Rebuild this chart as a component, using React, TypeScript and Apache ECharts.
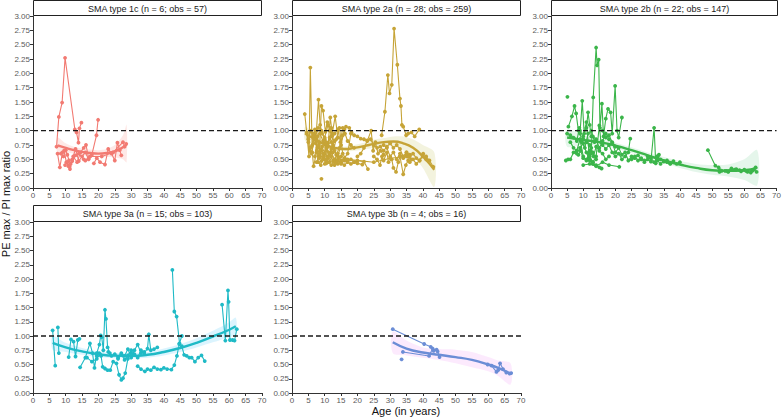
import React, { useEffect, useRef } from "react";
import * as echarts from "echarts";

type Pt = [number, number];

const FONT = "Liberation Sans, Arial, sans-serif";

const panelTitles = [
  "SMA type 1c (n = 6; obs = 57)",
  "SMA type 2a (n = 28; obs = 259)",
  "SMA type 2b (n = 22; obs = 147)",
  "SMA type 3a (n = 15; obs = 103)",
  "SMA type 3b (n = 4; obs = 16)",
];

const lineColors = ["#F27A72", "#C6A437", "#3BB54A", "#1FBAC6", "#6B8DD6"];
const bandColors = [
  "rgba(248,118,109,0.17)",
  "rgba(163,165,0,0.13)",
  "rgba(40,185,90,0.12)",
  "rgba(0,176,246,0.14)",
  "rgba(231,107,243,0.14)",
];

const xTickStep = 5;
const yTickStep = 0.25;
const referenceRatio = 1;

// ---------------- SMA type 1c ----------------
const type1cPatients: Pt[][] = [
  [[7.2, 0.72], [7.9, 1.24], [8.9, 1.49], [9.8, 2.27], [12.8, 1.02], [13.3, 0.97], [13.9, 0.79], [14.2, 1.04], [14.8, 1.14]],
  [[7.5, 0.6], [8.2, 0.36], [9.0, 0.62], [9.5, 0.65], [10.2, 0.45], [10.8, 0.38], [11.3, 0.33], [12.0, 0.5], [13.0, 0.68], [14.0, 0.47], [15.0, 0.55], [16.0, 0.62], [17.0, 0.5]],
  [[8.5, 0.6], [9.3, 0.55], [10.0, 0.66], [10.5, 0.58], [11.0, 0.48], [11.5, 0.42], [12.3, 0.55], [13.5, 0.45], [14.5, 0.62], [15.5, 0.7], [16.2, 0.75], [17.0, 0.52], [18.0, 0.58], [19.4, 0.92], [19.9, 1.19]],
  [[9.8, 0.4], [10.5, 0.45], [11.2, 0.37], [12.0, 0.47], [13.0, 0.57], [14.0, 0.6], [15.5, 0.5]],
  [[18.6, 0.43], [19.5, 0.52], [20.5, 0.45], [22.0, 0.41], [23.0, 0.68], [24.0, 0.6], [25.0, 0.48], [25.8, 0.79], [26.5, 0.66], [27.0, 0.57]],
  [[16.0, 0.48], [17.5, 0.55], [21.0, 0.55], [24.5, 0.62], [27.5, 0.8], [28.0, 0.72], [28.5, 0.77]],
];
const fit1cAge = [7.5, 10, 12.5, 15, 17.5, 20, 22.5, 25, 27.5, 28.6];
const fit1cMid = [0.745, 0.7, 0.66, 0.63, 0.61, 0.6, 0.61, 0.64, 0.71, 0.76];
const fit1cLow = [0.6, 0.62, 0.6, 0.57, 0.55, 0.54, 0.54, 0.53, 0.5, 0.45];
const fit1cHigh = [0.88, 0.78, 0.72, 0.69, 0.67, 0.66, 0.68, 0.75, 0.92, 1.1];

// ---------------- SMA type 2a ----------------
const type2aPatients: Pt[][] = [
  [[3.9, 1.29], [4.5, 0.97], [5.0, 0.8], [5.5, 0.65], [6.2, 0.75], [7.0, 0.9], [7.8, 0.7], [8.5, 0.55], [9.2, 0.72], [10.0, 0.6], [11.0, 0.52], [12.0, 0.68]],
  [[4.5, 0.95], [5.2, 0.55], [5.6, 2.1], [6.2, 0.62], [6.6, 0.38], [7.5, 0.62], [8.3, 0.8], [9.0, 0.47], [9.8, 0.55], [10.5, 0.43], [11.5, 0.58], [12.5, 0.47]],
  [[5.0, 0.85], [5.8, 1.0], [6.5, 0.92], [7.2, 0.78], [8.1, 1.54], [8.6, 1.1], [9.2, 0.95], [10.0, 0.85], [11.0, 0.78], [12.0, 0.9], [13.0, 0.82]],
  [[6.0, 0.72], [7.0, 1.02], [7.6, 0.65], [8.3, 0.52], [9.0, 1.43], [9.5, 1.35], [10.2, 0.98], [10.8, 1.15], [11.5, 1.0], [12.2, 0.92]],
  [[6.5, 0.95], [7.3, 0.85], [8.0, 0.45], [8.8, 0.4], [9.5, 0.6], [10.3, 0.48], [11.0, 0.72], [11.7, 1.23], [12.3, 0.95], [13.2, 1.25], [14.0, 0.88]],
  [[7.0, 0.55], [7.8, 0.9], [8.5, 0.95], [9.5, 0.82], [10.5, 0.65], [11.5, 0.88], [12.5, 0.75], [13.5, 0.58], [14.5, 0.7], [15.5, 0.92]],
  [[9.0, 0.16]],
  [[8.0, 1.05], [9.0, 1.0], [10.0, 0.88], [11.0, 1.1], [12.0, 1.05], [13.0, 0.65], [14.0, 0.55], [15.0, 0.75], [16.0, 1.02], [16.5, 1.07], [17.5, 1.05], [18.2, 0.97]],
  [[10.0, 0.42], [11.0, 0.45], [12.0, 0.4], [13.0, 0.48], [14.0, 0.42], [15.0, 0.45], [16.0, 0.4], [17.0, 0.45], [18.0, 0.42], [19.0, 0.45], [20.0, 0.43], [21.5, 0.41]],
  [[11.0, 0.55], [12.0, 0.62], [13.0, 0.5], [14.0, 0.6], [15.0, 0.48], [16.0, 0.52], [17.0, 0.6], [18.0, 0.95], [19.0, 0.92], [20.0, 0.9], [21.0, 0.86], [22.0, 0.85], [23.0, 0.83]],
  [[12.0, 0.8], [13.0, 0.95], [14.0, 1.02], [14.8, 0.8], [15.5, 1.05], [16.2, 0.95], [17.0, 0.82], [18.0, 0.75], [19.0, 0.7]],
  [[13.0, 0.45], [14.0, 0.5], [15.0, 0.42], [16.0, 0.48], [17.0, 0.46], [18.0, 0.5], [19.0, 0.45], [20.0, 0.48], [22.0, 0.46], [23.2, 0.33]],
  [[20.0, 0.55], [21.0, 0.6], [22.0, 0.7], [23.0, 0.82], [24.2, 1.0], [24.8, 0.65], [25.5, 0.8], [26.3, 0.6], [27.0, 0.65], [28.0, 0.58]],
  [[27.4, 0.92], [28.4, 1.33], [29.3, 1.97], [29.8, 1.65], [30.5, 1.8], [31.2, 2.78], [32.2, 2.15], [33.0, 1.56], [33.3, 1.43], [33.6, 1.1], [34.0, 1.07], [34.9, 0.92], [35.5, 0.95], [36.5, 0.97], [37.5, 0.9], [38.9, 1.02]],
  [[25.0, 0.55], [26.0, 0.5], [26.9, 0.4], [27.5, 0.55], [28.0, 0.48], [29.0, 0.62], [29.5, 0.45], [30.5, 0.5], [31.0, 0.35], [31.8, 0.28], [32.5, 0.45], [33.0, 0.55], [34.0, 0.24], [34.8, 0.4], [35.5, 0.48]],
  [[28.0, 0.75], [29.0, 0.7], [30.0, 0.55], [31.0, 0.62], [32.0, 0.5], [33.0, 0.6], [34.0, 0.52], [35.0, 0.58], [36.0, 0.45], [37.0, 0.5], [38.0, 0.42], [39.0, 0.48], [40.1, 0.6], [41.0, 0.55], [42.0, 0.48], [43.2, 0.37]],
  [[17.0, 0.5], [25.0, 0.45], [30.0, 0.52], [35.0, 0.55], [36.5, 0.5]],
  [[24.0, 0.85], [25.0, 0.75], [26.0, 0.7], [27.0, 0.72], [28.0, 0.65], [29.0, 0.72], [30.0, 0.78], [31.0, 0.7], [32.0, 0.75], [33.0, 0.68], [34.0, 0.55], [35.0, 0.62], [36.0, 0.58]],
  [[5.5, 0.7], [6.0, 0.6], [6.8, 0.85], [7.5, 1.0], [8.2, 0.75], [9.0, 0.65], [9.8, 0.78], [10.5, 0.7], [11.3, 0.62], [12.0, 0.55], [13.0, 0.4], [14.0, 0.47], [15.0, 0.55]],
  [[7.5, 0.45], [8.5, 0.6], [9.5, 0.5], [10.5, 0.8], [11.5, 0.45], [12.5, 0.62], [13.5, 0.85], [14.5, 1.05], [15.5, 0.6], [16.5, 0.5]],
  [[35.0, 0.62], [36.0, 0.55], [37.0, 0.6], [38.0, 0.52], [39.0, 0.48], [40.0, 0.55], [41.0, 0.5]],
];
const fit2aAge = [4, 7, 10, 13, 16, 19, 22, 25, 28, 31, 34, 37, 40, 43.5];
const fit2aMid = [0.95, 0.85, 0.76, 0.7, 0.68, 0.7, 0.73, 0.77, 0.8, 0.81, 0.78, 0.7, 0.55, 0.32];
const fit2aLow = [0.83, 0.78, 0.71, 0.66, 0.64, 0.65, 0.67, 0.7, 0.73, 0.72, 0.66, 0.55, 0.35, 0.02];
const fit2aHigh = [1.07, 0.92, 0.81, 0.74, 0.72, 0.75, 0.79, 0.84, 0.87, 0.9, 0.9, 0.85, 0.75, 0.62];

// ---------------- SMA type 2b ----------------
const type2bPatients: Pt[][] = [
  [[5.1, 1.59]],
  [[5.4, 1.07], [6.5, 1.25], [7.3, 1.43], [7.8, 1.3], [8.5, 1.0], [9.0, 0.95], [9.7, 1.52], [10.3, 0.95], [11.0, 1.05], [11.5, 1.32], [12.0, 1.1], [12.5, 0.9]],
  [[4.6, 0.48], [5.3, 0.5], [6.0, 0.5], [7.0, 0.62], [7.8, 0.63], [8.5, 0.58], [9.2, 0.65], [10.0, 0.52], [11.0, 0.5], [12.0, 0.55], [13.0, 0.45]],
  [[5.0, 0.95], [6.0, 0.92], [7.0, 0.88], [8.0, 0.82], [8.8, 1.05], [9.5, 0.8], [10.5, 0.7], [11.5, 0.95], [12.5, 1.0], [13.5, 0.8]],
  [[8.0, 0.6], [9.0, 0.7], [10.0, 0.78], [11.0, 0.62], [12.0, 0.48], [13.0, 0.42], [14.0, 0.4], [15.0, 0.36], [15.7, 0.34]],
  [[10.0, 0.85], [11.0, 0.8], [12.0, 0.75], [12.5, 0.6], [13.1, 1.58], [14.0, 2.45], [14.3, 2.14], [14.8, 2.24], [15.2, 1.05], [15.8, 1.47], [16.3, 0.9], [17.0, 1.21], [17.7, 1.38], [18.5, 1.32], [19.0, 0.95], [19.9, 1.78], [20.5, 1.0], [21.0, 0.88], [22.0, 1.23]],
  [[9.0, 1.0], [10.0, 0.9], [11.0, 1.15], [11.8, 0.6], [12.5, 0.7], [13.2, 0.55], [14.0, 0.72], [15.0, 0.65], [16.0, 0.6], [17.0, 0.5], [18.0, 0.55]],
  [[12.0, 0.5], [13.0, 0.45], [14.0, 0.55], [15.0, 1.09], [15.5, 0.8], [16.0, 0.75], [17.0, 0.68], [18.0, 0.75], [19.0, 0.62], [20.0, 0.55], [21.0, 0.6], [22.0, 0.5], [23.0, 0.55], [24.0, 0.62], [24.6, 0.86]],
  [[10.0, 0.4], [12.0, 0.42], [14.0, 0.38], [16.0, 0.45], [18.0, 0.4], [21.2, 0.37]],
  [[16.0, 1.0], [17.0, 0.88], [18.0, 0.92], [19.0, 0.8], [20.0, 0.62], [21.0, 0.7], [22.0, 0.58], [23.0, 0.62], [24.0, 0.48], [25.0, 0.55], [26.0, 0.52], [27.0, 0.57], [28.0, 0.5], [29.0, 0.48]],
  [[25.0, 0.5], [26.0, 0.55], [27.0, 0.48], [28.0, 0.52], [29.0, 0.45], [30.0, 0.5], [31.0, 0.46], [32.0, 1.05], [32.5, 0.43], [33.0, 0.55], [33.5, 0.58]],
  [[30.0, 0.55], [31.0, 0.52], [32.0, 0.45], [33.0, 0.48], [34.0, 0.42], [35.0, 0.47], [36.0, 0.45], [37.0, 0.42], [38.0, 0.45], [39.0, 0.42], [40.0, 0.45]],
  [[33.0, 0.55], [34.0, 0.5], [35.0, 0.46], [36.0, 0.48], [37.0, 0.43], [38.0, 0.47]],
  [[48.7, 0.66], [51.0, 0.39], [52.0, 0.36], [52.3, 0.28], [53.0, 0.3], [54.0, 0.3], [55.0, 0.29]],
  [[52.5, 0.31], [54.5, 0.3], [56.0, 0.34], [57.0, 0.32], [58.5, 0.31], [60.0, 0.32], [61.0, 0.28], [62.0, 0.27], [63.0, 0.32], [63.8, 0.28]],
  [[55.0, 0.28], [57.5, 0.33], [59.0, 0.29], [60.5, 0.3], [62.5, 0.3], [63.5, 0.36]],
  [[6.0, 0.8], [7.0, 0.7], [8.0, 0.65], [9.0, 0.85], [10.0, 0.55], [11.0, 0.48], [12.0, 0.65], [13.0, 0.62], [14.0, 0.5]],
  [[13.0, 0.9], [14.0, 0.85], [15.0, 0.7], [16.0, 0.82], [17.0, 0.95], [18.0, 0.85], [19.0, 0.78], [20.0, 0.72]],
];
const fit2bAge = [5, 10, 15, 20, 25, 30, 35, 40, 45, 50, 55, 60, 64];
const fit2bMid = [0.88, 0.84, 0.8, 0.74, 0.66, 0.57, 0.48, 0.41, 0.35, 0.31, 0.3, 0.31, 0.35];
const fit2bLow = [0.72, 0.76, 0.74, 0.69, 0.61, 0.52, 0.43, 0.35, 0.28, 0.23, 0.2, 0.14, 0.05];
const fit2bHigh = [1.02, 0.92, 0.86, 0.79, 0.71, 0.62, 0.54, 0.47, 0.42, 0.4, 0.41, 0.5, 0.66];

// ---------------- SMA type 3a ----------------
const type3aPatients: Pt[][] = [
  [[6.0, 1.1], [6.8, 0.48]],
  [[7.6, 1.15], [7.9, 0.7]],
  [[10.9, 0.63], [11.6, 0.94], [12.4, 0.9], [13.0, 0.64], [13.7, 0.93], [14.2, 0.95]],
  [[14.4, 0.45], [16.0, 0.62], [17.4, 0.87], [18.2, 0.7], [18.8, 0.44], [19.5, 0.7], [20.3, 0.85], [20.7, 1.01], [21.0, 0.98], [21.5, 0.75], [22.0, 1.46], [22.3, 1.3], [22.8, 0.8], [23.5, 0.7]],
  [[19.5, 0.65], [20.2, 0.7], [20.8, 0.65], [21.3, 0.46], [22.0, 0.43], [22.8, 0.4], [23.6, 0.4], [24.5, 0.55], [25.5, 0.52], [26.3, 0.32], [27.0, 0.23], [27.5, 0.26], [28.2, 0.35], [29.0, 0.6], [30.0, 0.7]],
  [[23.0, 0.72], [24.0, 0.65], [25.0, 0.68], [26.0, 0.62], [27.0, 0.7], [28.0, 0.65], [29.0, 0.77], [30.0, 0.62], [31.0, 0.75], [32.0, 0.85], [33.0, 0.7], [34.0, 0.72]],
  [[26.0, 0.6], [27.0, 0.68], [28.0, 0.58], [29.0, 0.66], [30.0, 0.75], [31.0, 0.68], [32.0, 0.62], [33.0, 0.75], [34.0, 0.7], [35.0, 0.78], [35.4, 1.03], [36.0, 0.75], [37.0, 0.77], [38.0, 0.8]],
  [[32.0, 0.47], [33.0, 0.42], [34.2, 0.38], [35.0, 0.42], [36.0, 0.4], [37.0, 0.45], [38.0, 0.42], [39.1, 0.41], [40.0, 0.44], [41.0, 0.42], [42.3, 0.41], [43.2, 0.49], [44.0, 0.65], [44.7, 0.86], [45.5, 1.0]],
  [[42.6, 2.16], [43.2, 1.43], [43.9, 1.34], [44.8, 0.87], [45.5, 0.82], [46.2, 0.67], [47.0, 0.65], [47.8, 0.62], [48.5, 0.62], [49.5, 0.55], [50.5, 0.62], [51.5, 0.66], [52.5, 0.56]],
  [[57.8, 1.55], [58.8, 0.92], [59.6, 1.8], [59.8, 1.6], [60.2, 0.93], [61.0, 0.93], [61.6, 0.92], [62.3, 1.12]],
  [[16.5, 0.62], [18.0, 0.55], [19.5, 0.6], [20.5, 0.68]],
];
const fit3aAge = [6, 10, 15, 20, 25, 30, 35, 40, 45, 50, 55, 60, 62];
const fit3aMid = [0.88, 0.8, 0.73, 0.68, 0.655, 0.652, 0.67, 0.72, 0.79, 0.88, 0.99, 1.11, 1.17];
const fit3aLow = [0.76, 0.72, 0.67, 0.63, 0.61, 0.61, 0.62, 0.66, 0.72, 0.8, 0.89, 0.98, 1.02];
const fit3aHigh = [1.0, 0.88, 0.79, 0.73, 0.7, 0.7, 0.72, 0.78, 0.86, 0.96, 1.09, 1.24, 1.32];

// ---------------- SMA type 3b ----------------
const type3bPatients: Pt[][] = [
  [[30.8, 1.12], [40.4, 0.86], [42.4, 0.81], [43.3, 0.74], [44.2, 0.76]],
  [[33.9, 0.72], [41.9, 0.65], [43.0, 0.78], [44.5, 0.73], [45.1, 0.63]],
  [[33.5, 0.59]],
  [[59.8, 0.5], [61.0, 0.48], [62.5, 0.37], [63.0, 0.4], [63.6, 0.52], [64.5, 0.42], [65.5, 0.36], [66.5, 0.34], [67.0, 0.35]],
];
const fit3bAge = [30.8, 35, 40, 45, 50, 55, 60, 63, 66.8];
const fit3bMid = [0.89, 0.78, 0.71, 0.67, 0.63, 0.58, 0.5, 0.44, 0.34];
const fit3bLow = [0.7, 0.66, 0.62, 0.58, 0.52, 0.45, 0.38, 0.3, 0.15];
const fit3bHigh = [1.08, 0.92, 0.8, 0.77, 0.76, 0.72, 0.63, 0.57, 0.52];

const panelPatients = [type1cPatients, type2aPatients, type2bPatients, type3aPatients, type3bPatients];
const panelFitAge = [fit1cAge, fit2aAge, fit2bAge, fit3aAge, fit3bAge];
const panelFitMid = [fit1cMid, fit2aMid, fit2bMid, fit3aMid, fit3bMid];
const panelFitLow = [fit1cLow, fit2aLow, fit2bLow, fit3aLow, fit3bLow];
const panelFitHigh = [fit1cHigh, fit2aHigh, fit2bHigh, fit3aHigh, fit3bHigh];

const grids = [
  { left: 33, top: 16, width: 229, height: 172 },
  { left: 292, top: 16, width: 229, height: 172 },
  { left: 551, top: 16, width: 227, height: 172 },
  { left: 33, top: 222, width: 229, height: 171 },
  { left: 292, top: 222, width: 229, height: 171 },
];

export default function App() {
  const ref = useRef<HTMLDivElement>(null);

  useEffect(() => {
    if (!ref.current) return;
    const chart = echarts.init(ref.current, undefined, { renderer: "svg" });

    const xAxes: any[] = [];
    const yAxes: any[] = [];
    const series: any[] = [];
    const graphics: any[] = [];

    grids.forEach((g, i) => {
      xAxes.push({
        type: "value",
        gridIndex: i,
        min: 0,
        max: 70,
        interval: xTickStep,
        axisLine: { show: true, onZero: false, lineStyle: { color: "#333", width: 1 } },
        axisTick: { show: true, length: 3, lineStyle: { color: "#333" } },
        axisLabel: { fontSize: 8, color: "#5a5a5a", margin: 3, fontFamily: FONT },
        splitLine: { show: false },
      });
      yAxes.push({
        type: "value",
        gridIndex: i,
        min: 0,
        max: 3,
        interval: yTickStep,
        axisLine: { show: true, onZero: false, lineStyle: { color: "#333", width: 1 } },
        axisTick: { show: true, length: 3, lineStyle: { color: "#333" } },
        axisLabel: {
          fontSize: 8,
          color: "#5a5a5a",
          margin: 3,
          fontFamily: FONT,
          formatter: (v: number) => v.toFixed(2),
        },
        splitLine: { show: false },
      });

      const ages = panelFitAge[i];
      const lows = panelFitLow[i];
      const highs = panelFitHigh[i];
      const mids = panelFitMid[i];
      const color = lineColors[i];

      // confidence band
      series.push({
        type: "custom",
        xAxisIndex: i,
        yAxisIndex: i,
        silent: true,
        z: 1,
        data: [[35, 1.5]],
        renderItem: (_p: any, api: any) => {
          const pts: number[][] = [];
          for (let k = 0; k < ages.length; k++) pts.push(api.coord([ages[k], highs[k]]));
          for (let k = ages.length - 1; k >= 0; k--) pts.push(api.coord([ages[k], lows[k]]));
          return {
            type: "polygon",
            shape: { points: pts, smooth: 0.3 },
            style: { fill: bandColors[i], stroke: "none" },
          };
        },
      });

      // individual patients
      panelPatients[i].forEach((pts) => {
        series.push({
          type: "line",
          xAxisIndex: i,
          yAxisIndex: i,
          data: pts,
          symbol: "circle",
          symbolSize: 3.8,
          showSymbol: true,
          silent: true,
          z: 2,
          lineStyle: { color, width: 1.1 },
          itemStyle: { color },
        });
      });

      // fitted curve
      series.push({
        type: "line",
        xAxisIndex: i,
        yAxisIndex: i,
        data: ages.map((a, k) => [a, mids[k]]),
        smooth: 0.5,
        symbol: "none",
        silent: true,
        z: 3,
        lineStyle: { color, width: 2.4 },
      });

      // reference line at 1.00
      series.push({
        type: "line",
        xAxisIndex: i,
        yAxisIndex: i,
        data: [
          [0, referenceRatio],
          [70, referenceRatio],
        ],
        symbol: "none",
        silent: true,
        z: 4,
        lineStyle: { color: "#1a1a1a", width: 1.3, type: [5, 3] },
      });

      // strip title
      const stripTop = i < 3 ? 0.5 : 205.5;
      const stripH = g.top - stripTop - 0.5;
      graphics.push({
        type: "rect",
        shape: { x: g.left + 0.5, y: stripTop, width: g.width - 1, height: stripH },
        style: { fill: "#fff", stroke: "#222", lineWidth: 1 },
        z: 10,
      });
      graphics.push({
        type: "text",
        x: g.left + g.width / 2,
        y: stripTop + stripH / 2 + 0.5,
        style: {
          text: panelTitles[i],
          fontSize: 9,
          fontFamily: FONT,
          fill: "#1a1a1a",
          align: "center",
          verticalAlign: "middle",
        },
        z: 11,
      });
    });

    graphics.push({
      type: "text",
      x: 6,
      y: 204,
      rotation: Math.PI / 2,
      style: {
        text: "PE max / PI max ratio",
        fontSize: 11,
        fontFamily: FONT,
        fill: "#111",
        align: "center",
        verticalAlign: "middle",
      },
    });
    graphics.push({
      type: "text",
      x: 406,
      y: 411,
      style: {
        text: "Age (in years)",
        fontSize: 11,
        fontFamily: FONT,
        fill: "#111",
        align: "center",
        verticalAlign: "middle",
      },
    });

    chart.setOption({
      animation: false,
      backgroundColor: "#fff",
      grid: grids.map((g) => ({ ...g, containLabel: false })),
      xAxis: xAxes,
      yAxis: yAxes,
      series,
      graphic: graphics,
    });

    return () => chart.dispose();
  }, []);

  return (
    <div
      ref={ref}
      style={{ position: "fixed", left: 0, top: 0, width: 784, height: 418 }}
    />
  );
}
